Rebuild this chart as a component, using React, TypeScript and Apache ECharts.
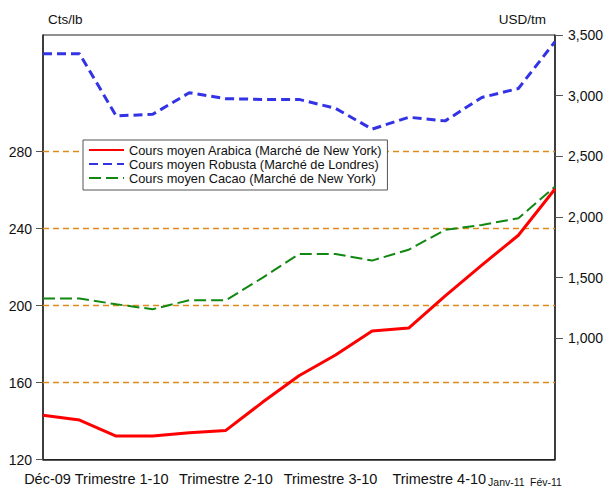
import React, { useEffect, useRef } from "react";
import * as echarts from "echarts";

const months = [
  "Déc-09", "Janv-10", "Févr-10", "Mars-10", "Avr-10", "Mai-10", "Juin-10", "Juil-10",
  "Août-10", "Sept-10", "Oct-10", "Nov-10", "Déc-10", "Janv-11", "Fév-11",
];
const xLabels = [
  "Déc-09", "", "Trimestre 1-10", "", "", "Trimestre 2-10", "", "", "Trimestre 3-10",
  "", "", "Trimestre 4-10", "", "Janv-11", "Fév-11",
];
const arabica = [143.0, 140.5, 132.2, 132.2, 133.9, 135.1, 149.7, 163.5, 174.3, 186.8, 188.3, 205.0, 221.0, 236.5, 260.5];
const robusta = [3345, 3345, 2833, 2846, 3024, 2975, 2969, 2969, 2895, 2724, 2822, 2792, 2985, 3059, 3445];
const cacao = [1327, 1327, 1280, 1239, 1313, 1313, 1498, 1694, 1694, 1640, 1730, 1893, 1934, 1989, 2250];
const leftTicks = [120, 160, 200, 240, 280];
const rightTicks = [1000, 1500, 2000, 2500, 3000, 3500];
const gridValues = [160, 200, 240, 280];
const leftUnit = "Cts/lb";
const rightUnit = "USD/tm";
const seriesNames = [
  "Cours moyen Arabica (Marché de New York)",
  "Cours moyen Robusta (Marché de Londres)",
  "Cours moyen Cacao (Marché de New York)",
];

const labelShift: Record<number, { fontSize: number; padding: number[] }> = {
  0: { fontSize: 14.5, padding: [0, 0, 0, 9] },
  2: { fontSize: 14.5, padding: [0, 0, 0, 11] },
  5: { fontSize: 14.5, padding: [0, 0, 0, 0] },
  8: { fontSize: 14.5, padding: [0, 10, 0, 0] },
  11: { fontSize: 14.5, padding: [0, 12, 0, 0] },
  13: { fontSize: 10.5, padding: [5, 24, 0, 0] },
  14: { fontSize: 10.5, padding: [5, 18, 0, 0] },
};

export default function App() {
  const ref = useRef<HTMLDivElement>(null);
  useEffect(() => {
    if (!ref.current) return;
    const chart = echarts.init(ref.current, undefined, { renderer: "svg" });
    const rich: Record<string, any> = {};
    Object.keys(labelShift).forEach((k) => {
      rich["s" + k] = { ...labelShift[+k], color: "#111", fontFamily: "Liberation Sans" };
    });
    chart.setOption({
      animation: false,
      backgroundColor: "#fff",
      textStyle: { fontFamily: "Liberation Sans, Arial, sans-serif" },
      grid: { left: 43, right: 50, top: 35, bottom: 30.5, show: true, borderColor: "#222", borderWidth: 1 },
      graphic: [
        { type: "text", left: 48, top: 12, style: { text: leftUnit, fontSize: 13.5, fill: "#111", fontFamily: "Liberation Sans" } },
        { type: "text", right: 60, top: 12, style: { text: rightUnit, fontSize: 13.5, fill: "#111", fontFamily: "Liberation Sans" } },
      ],
      legend: {
        data: seriesNames,
        orient: "vertical",
        left: 83,
        top: 140,
        itemWidth: 35,
        itemHeight: 14,
        itemGap: 0,
        padding: [3, 5, 5, 5],
        borderColor: "#555",
        borderWidth: 1,
        backgroundColor: "#fff",
        itemStyle: { opacity: 0 },
        textStyle: { fontSize: 12.8, lineHeight: 14, color: "#111" },
      },
      xAxis: {
        type: "category",
        data: months,
        boundaryGap: false,
        axisLine: { lineStyle: { color: "#222", width: 1.5 } },
        axisTick: { show: false },
        axisLabel: {
          interval: 0,
          margin: 12,
          hideOverlap: false,
          formatter: (_v: string, i: number) => (xLabels[i] ? `{s${i}|${xLabels[i]}}` : ""),
          rich,
        },
      },
      yAxis: [
        {
          type: "value",
          min: 120,
          max: 340.52,
          interval: 40,
          axisLine: { show: true, lineStyle: { color: "#222", width: 1.5 } },
          axisTick: { show: true, length: 7, lineStyle: { color: "#555" }, customValues: leftTicks },
          axisLabel: { fontSize: 14, color: "#111", margin: 11, customValues: leftTicks },
          splitLine: { show: false },
        },
        {
          type: "value",
          min: 0,
          max: 3500,
          interval: 500,
          position: "right",
          axisLine: { show: true, lineStyle: { color: "#222", width: 1.5 } },
          axisTick: { show: true, length: 8, lineStyle: { color: "#555" }, customValues: rightTicks },
          axisLabel: {
            fontSize: 14,
            color: "#111",
            margin: 13,
            customValues: rightTicks,
            formatter: (v: number) => v.toLocaleString("en-US"),
          },
          splitLine: { show: false },
        },
      ],
      series: [
        {
          name: seriesNames[0],
          type: "line",
          yAxisIndex: 0,
          data: arabica,
          symbol: "none",
          lineStyle: { color: "#FF0000", width: 3 },
          itemStyle: { color: "#FF0000" },
          z: 4,
          markLine: {
            silent: true,
            symbol: "none",
            label: { show: false },
            lineStyle: { color: "#E08A1A", width: 1.4, type: [6, 4], opacity: 1 },
            emphasis: { disabled: true },
            data: gridValues.map((v) => ({ yAxis: v })),
            z: 1,
          },
        },
        {
          name: seriesNames[1],
          type: "line",
          yAxisIndex: 1,
          data: robusta,
          symbol: "none",
          lineStyle: { color: "#3333E6", width: 3, type: [9, 5] },
          itemStyle: { color: "#3333E6" },
          z: 3,
        },
        {
          name: seriesNames[2],
          type: "line",
          yAxisIndex: 1,
          data: cacao,
          symbol: "none",
          lineStyle: { color: "#118811", width: 2, type: [12, 5] },
          itemStyle: { color: "#118811" },
          z: 3,
        },
      ],
    });
    return () => chart.dispose();
  }, []);
  return <div ref={ref} style={{ position: "fixed", left: 0, top: 0, width: 606, height: 490 }} />;
}
